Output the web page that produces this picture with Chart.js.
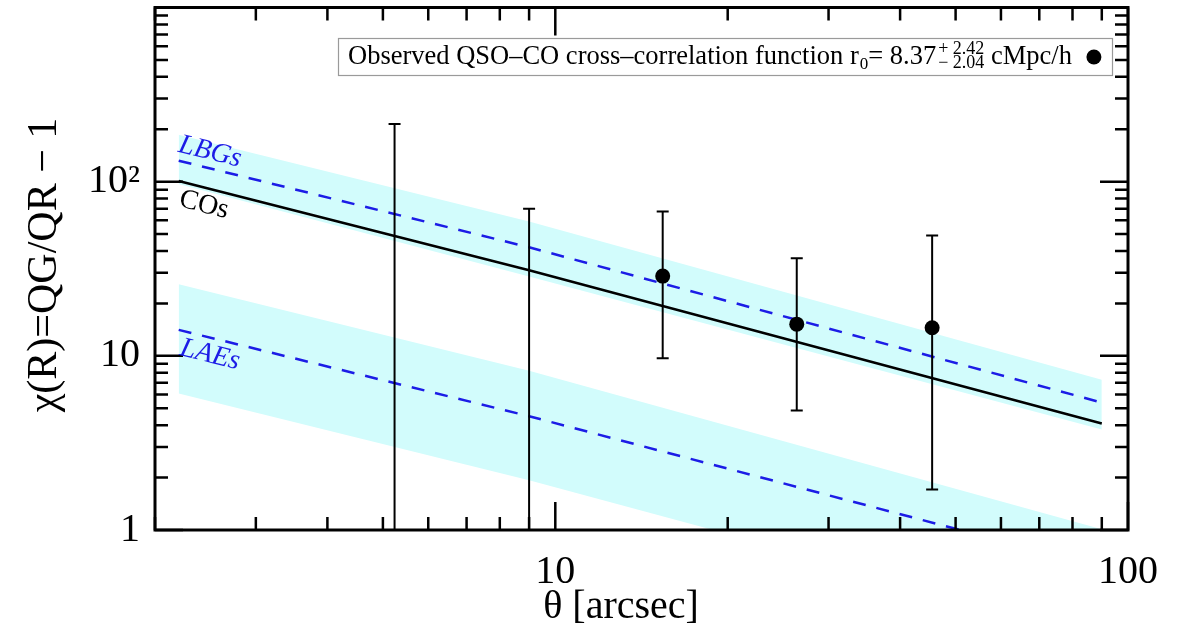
<!DOCTYPE html>
<html>
<head>
<meta charset="utf-8">
<script src="https://cdn.jsdelivr.net/npm/chart.js@4.4.1/dist/chart.umd.min.js"></script>
<style>
html, body { margin: 0; padding: 0; background: #fff; }
#wrap { width: 1178px; height: 639px; }
</style>
</head>
<body>
<div id="wrap"><canvas id="chart"></canvas></div>
<script>
// observed QSO-CO points with their error bars
const obsTheta = [15.4, 26.4, 45.5];
const obsValue = [28.7, 15.2, 14.5];
const obsUpper = [67.4, 36.3, 49.1];
const obsLower = [9.7, 4.85, 1.71];

// bins whose point falls below the plotted range (only the bar shows)
const offTheta = [5.24, 9.0];
const offUpper = [214, 70];
const offLower = [0.1, 0.1];

// model curves, read at these angles
const modelTheta = [2.2, 9, 90];
const coModel  = [101, 31, 4.09];
const lbgModel = [132, 42, 5.39];
const lbgHigh  = [186, 59, 7.3];
const lbgLow   = [97, 28.5, 3.78];
const laeModel = [14.1, 4.5, 0.61];
const laeHigh  = [25.8, 8.2, 1.01];
const laeLow   = [6.07, 1.93, 0.25];

const xTickLabels = { 10: "10", 100: "100" };
const yTickLabels = { 1: "1", 10: "10", 100: "10\u00b2" };

const serif = "'Liberation Serif', 'DejaVu Serif', serif";
const cyan = "#d2fcfc";
const blue = "#1c1ce6";

function pts(values) {
    return modelTheta.map((t, i) => ({ x: t, y: values[i] }));
}

// white page behind the canvas drawing
const background = {
    id: "background",
    beforeDraw(chart) {
        const ctx = chart.ctx;
        ctx.save();
        ctx.fillStyle = "#fff";
        ctx.fillRect(0, 0, chart.width, chart.height);
        ctx.restore();
    }
};

// error bars drawn through the library scales
const errorBars = {
    id: "errorBars",
    afterDatasetsDraw(chart) {
        const ctx = chart.ctx;
        const xs = chart.scales.x, ys = chart.scales.y;
        const area = chart.chartArea;
        ctx.save();
        ctx.beginPath();
        ctx.rect(area.left, area.top, area.right - area.left, area.bottom - area.top);
        ctx.clip();
        ctx.strokeStyle = "#000";
        ctx.lineWidth = 2;
        const bars = obsTheta.map((t, i) => [t, obsUpper[i], obsLower[i]])
            .concat(offTheta.map((t, i) => [t, offUpper[i], offLower[i]]));
        bars.forEach(([t, hi, lo]) => {
            const px = xs.getPixelForValue(t);
            const py1 = ys.getPixelForValue(hi);
            const py2 = ys.getPixelForValue(lo);
            ctx.beginPath();
            ctx.moveTo(px, py1); ctx.lineTo(px, py2);
            ctx.moveTo(px - 6, py1); ctx.lineTo(px + 6, py1);
            ctx.moveTo(px - 6, py2); ctx.lineTo(px + 6, py2);
            ctx.stroke();
        });
        ctx.restore();
    }
};

// IDL-style frame, inward ticks, titles, labels and the legend box
const decorations = {
    id: "decorations",
    afterDraw(chart) {
        const ctx = chart.ctx;
        const xs = chart.scales.x, ys = chart.scales.y;
        const { left, right, top, bottom } = chart.chartArea;
        ctx.save();

        // ticks
        ctx.strokeStyle = "#000";
        ctx.lineWidth = 2.5;
        ctx.beginPath();
        for (let d = 1; d <= 100; d *= 10) {
            for (let m = 1; m <= 9; m++) {
                const v = m * d;
                if (v < xs.min || v > xs.max) continue;
                const px = xs.getPixelForValue(v);
                const len = m === 1 ? 28 : 13;
                ctx.moveTo(px, bottom); ctx.lineTo(px, bottom - len);
                ctx.moveTo(px, top); ctx.lineTo(px, top + len);
            }
        }
        for (let d = 1; d <= 1000; d *= 10) {
            for (let m = 1; m <= 9; m++) {
                const v = m * d;
                if (v < ys.min || v > ys.max) continue;
                const py = ys.getPixelForValue(v);
                const len = m === 1 ? 28 : 13;
                ctx.moveTo(left, py); ctx.lineTo(left + len, py);
                ctx.moveTo(right, py); ctx.lineTo(right - len, py);
            }
        }
        ctx.stroke();

        // frame
        ctx.lineWidth = 3;
        ctx.strokeRect(left, top, right - left, bottom - top);

        // axis titles
        ctx.fillStyle = "#000";
        ctx.textAlign = "center";
        ctx.textBaseline = "middle";
        ctx.font = "40px " + serif;
        ctx.fillText("\u03b8 [arcsec]", 621, 607);
        ctx.save();
        ctx.translate(45, 265);
        ctx.rotate(-Math.PI / 2);
        ctx.font = "42px " + serif;
        ctx.fillText("\u03c7(R)=QG/QR \u2212 1", 0, 0);
        ctx.restore();

        // curve labels
        const ang = 14 * Math.PI / 180;
        [["LBGs", 210, 152, blue, "italic "], ["COs", 204, 205, "#000", ""], ["LAEs", 210, 355, blue, "italic "]]
            .forEach(([txt, cx, cy, col, st]) => {
                ctx.save();
                ctx.translate(cx, cy);
                ctx.rotate(ang);
                ctx.fillStyle = col;
                ctx.font = st + "28px " + serif;
                ctx.fillText(txt, 0, 0);
                ctx.restore();
            });

        // legend
        ctx.fillStyle = "#fff";
        ctx.fillRect(338, 38, 774, 37);
        ctx.strokeStyle = "#9a9a9a";
        ctx.lineWidth = 1.2;
        ctx.strokeRect(338.5, 38.5, 774, 37);
        ctx.fillStyle = "#000";
        ctx.textAlign = "left";
        ctx.textBaseline = "alphabetic";
        const base = 64;
        let x = 348;
        ctx.font = "26.5px " + serif;
        const part1 = "Observed QSO\u2013CO cross\u2013correlation function r";
        ctx.fillText(part1, x, base);
        x += ctx.measureText(part1).width;
        ctx.font = "17px " + serif;
        ctx.fillText("0", x + 1, base + 5);
        x += ctx.measureText("0").width + 1;
        ctx.font = "26.5px " + serif;
        ctx.fillText("= 8.37", x, base);
        x += ctx.measureText("= 8.37").width + 2;
        ctx.font = "18px " + serif;
        ctx.fillText("+ 2.42", x, base - 10);
        ctx.fillText("\u2212 2.04", x, base + 4);
        x += Math.max(ctx.measureText("+ 2.42").width, ctx.measureText("\u2212 2.04").width);
        ctx.font = "26.5px " + serif;
        ctx.fillText(" cMpc/h", x, base);
        x += ctx.measureText(" cMpc/h").width;
        ctx.beginPath();
        ctx.arc(x + 22, 57, 7.5, 0, Math.PI * 2);
        ctx.fill();

        ctx.restore();
    }
};

new Chart(document.getElementById("chart"), {
    type: "line",
    data: {
        datasets: [
            { data: pts(lbgHigh), fill: "+1", backgroundColor: cyan, borderWidth: 0, pointRadius: 0, order: 10 },
            { data: pts(lbgLow), fill: false, borderWidth: 0, pointRadius: 0, order: 10 },
            { data: pts(laeHigh), fill: "+1", backgroundColor: cyan, borderWidth: 0, pointRadius: 0, order: 10 },
            { data: pts(laeLow), fill: false, borderWidth: 0, pointRadius: 0, order: 10 },
            { data: pts(lbgModel), borderColor: blue, borderWidth: 2.5, borderDash: [13, 11], pointRadius: 0, fill: false, order: 5 },
            { data: pts(laeModel), borderColor: blue, borderWidth: 2.5, borderDash: [13, 11], pointRadius: 0, fill: false, order: 5 },
            { data: pts(coModel), borderColor: "#000", borderWidth: 2.5, pointRadius: 0, fill: false, order: 4 },
            {
                data: obsTheta.map((t, i) => ({ x: t, y: obsValue[i] })),
                showLine: false, pointRadius: 7.5, pointBackgroundColor: "#000",
                pointBorderColor: "#000", pointBorderWidth: 0, order: 1
            }
        ]
    },
    options: {
        responsive: true,
        maintainAspectRatio: false,
        animation: false,
        events: [],
        layout: { padding: { top: 6, right: 50, left: 0, bottom: 0 } },
        plugins: {
            legend: { display: false },
            tooltip: { enabled: false }
        },
        scales: {
            x: {
                type: "logarithmic",
                min: 2,
                max: 100,
                grid: { display: false, drawTicks: false },
                border: { display: false },
                afterBuildTicks: s => { s.ticks = Object.keys(xTickLabels).map(v => ({ value: +v })); },
                afterFit: s => { s.height = 109; s.paddingLeft = 0; s.paddingRight = 0; },
                ticks: {
                    autoSkip: false, maxRotation: 0, padding: 18, color: "#000",
                    font: { family: serif, size: 40 },
                    callback: v => xTickLabels[v] || ""
                }
            },
            y: {
                type: "logarithmic",
                min: 1,
                max: 1000,
                grid: { display: false, drawTicks: false },
                border: { display: false },
                afterBuildTicks: s => { s.ticks = Object.keys(yTickLabels).map(v => ({ value: +v })); },
                afterFit: s => { s.width = 155; s.paddingTop = 0; s.paddingBottom = 0; },
                ticks: {
                    autoSkip: false, padding: 15, color: "#000",
                    font: { family: serif, size: 40 },
                    callback: v => yTickLabels[v] || ""
                }
            }
        }
    },
    plugins: [background, errorBars, decorations]
});
</script>
</body>
</html>
